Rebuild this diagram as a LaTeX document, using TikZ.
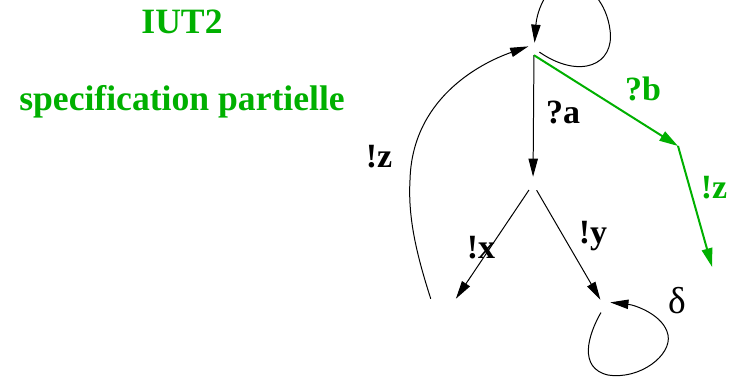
\documentclass[tikz,border=0pt]{standalone}
\usepackage{fontspec}
\setmainfont{Liberation Serif}
\usetikzlibrary{arrows.meta}
\definecolor{specgreen}{HTML}{00B000}

\begin{document}
\begin{tikzpicture}[
    x=0.03cm, y=-0.03cm,
    state/.style={circle, inner sep=0pt},
    trans/.style={-{Triangle[length=15.5pt,width=8pt]}, line width=0.85pt},
    spec/.style={trans, draw=specgreen, line width=1.7pt, -{Triangle[length=16pt,width=9pt]}},
    lbl/.style={font=\fontsize{29}{34}\selectfont\bfseries, anchor=base, inner sep=0pt},
    glbl/.style={lbl, text=specgreen},
    title/.style={font=\fontsize{30.4}{36}\selectfont\bfseries, text=specgreen, anchor=base, inner sep=0pt}
]
  \useasboundingbox (0,0) rectangle (740,379);

  \node[title] (iut) at (182,33) {IUT2};
  \node[title] (partial) at (182,110) {specification partielle};

  % states
  \node[state, minimum size=0.36cm] (q0) at (534,49) {};
  \node[state, minimum size=0.42cm] (q1) at (533,184) {};
  \node[rectangle, inner sep=0pt, minimum width=1.2cm, minimum height=0.42cm] (q2) at (451,306) {};
  \node[state, minimum size=0.42cm] (q3) at (604,306) {};
  \coordinate (q4) at (678,146);
  \node[state, minimum size=0.3cm] (q5) at (713.5,272) {};

  \draw[trans] (q0) -- (q1);
  \draw[trans] (q1) -- (q2);
  \draw[trans] (q1) -- (q3);
  \draw[trans] (q0.-30) .. controls (580,80) and (615,65) .. (610,30)
    .. controls (607,5) and (590,-18) .. (568,-18)
    .. controls (548,-18) and (537,10) .. (q0.85);
  \draw[trans] (q2.north west) .. controls (415,250) and (408,215) .. (410,180)
    .. controls (412,100) and (478,64) .. (q0.155);
  \draw[trans] (q3.-115) .. controls (588,335) and (578,368) .. (608,375)
    .. controls (640,380) and (672,355) .. (668,335)
    .. controls (664,315) and (635,305) .. (q3.30);

  \draw[spec] (q0.south) -- (q4);
  \draw[spec] (q4) -- (q5);

  % labels
  \node[lbl] (la) at (563,123) {?a};
  \node[glbl] (lb) at (643,100) {?b};
  \node[glbl] (lzspec) at (714,198) {!z};
  \node[lbl] (lx) at (481,258) {!x};
  \node[lbl] (ly) at (593,243) {!y};
  \node[lbl] (lz) at (379,167) {!z};
  \node[lbl, font=\fontsize{32}{36}\selectfont] (ldelta) at (677,313) {δ};
\end{tikzpicture}
\end{document}
